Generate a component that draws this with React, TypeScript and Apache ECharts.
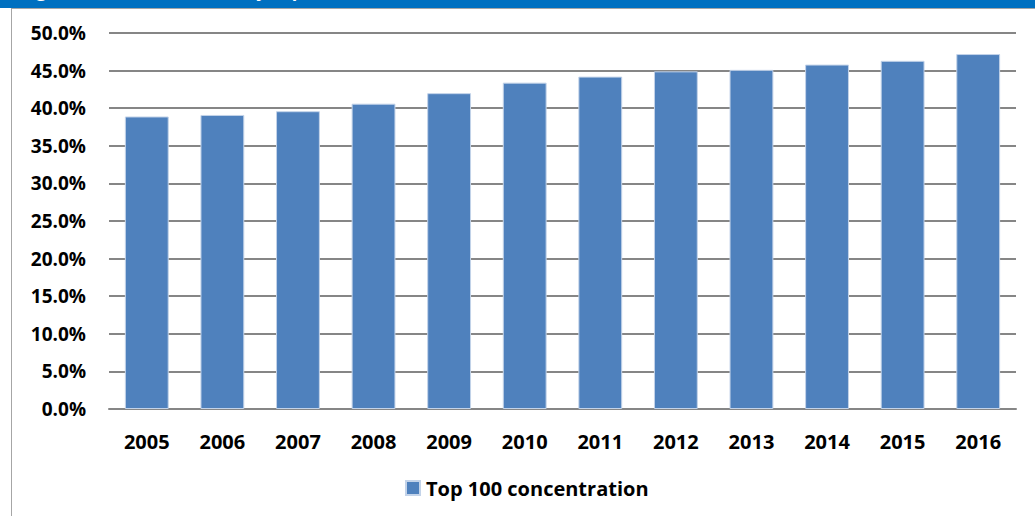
import React, { useEffect, useRef } from "react";
import * as echarts from "echarts";

const years = ["2005", "2006", "2007", "2008", "2009", "2010", "2011", "2012", "2013", "2014", "2015", "2016"];
const top100Concentration = [38.9, 39.1, 39.6, 40.6, 42.0, 43.4, 44.2, 44.9, 45.1, 45.8, 46.3, 47.2];
const seriesName = "Top 100 concentration";
const titleText = "Figure 1: Concentration by top 100 firms' market share (%)";

const FONT = "'Open Sans', 'Noto Sans', sans-serif";

export default function App() {
  const ref = useRef<HTMLDivElement>(null);

  useEffect(() => {
    if (!ref.current) return;
    const chart = echarts.init(ref.current, undefined, { renderer: "svg" });
    chart.setOption({
      animation: false,
      backgroundColor: "#ffffff",
      grid: { left: 97, right: 19, top: 24, bottom: 107, containLabel: false },
      legend: {
        data: [seriesName],
        left: 388,
        top: 464,
        icon: "rect",
        itemWidth: 14,
        itemHeight: 14,
        textStyle: { fontFamily: FONT, fontWeight: "bold", fontSize: 20, color: "#000", padding: [0, 0, 0, 1] },
      },
      xAxis: {
        type: "category",
        data: years,
        axisLine: { show: true, lineStyle: { color: "#868686", width: 2 } },
        axisTick: { show: false },
        axisLabel: {
          margin: 22,
          fontFamily: FONT,
          fontWeight: "bold",
          fontSize: 20,
          color: "#000",
        },
      },
      yAxis: {
        type: "value",
        min: 0,
        max: 50,
        interval: 5,
        axisLine: { show: false },
        axisTick: { show: false },
        splitLine: { lineStyle: { color: "#868686", width: 2 } },
        axisLabel: {
          margin: 23,
          fontFamily: FONT,
          fontWeight: "bold",
          fontSize: 19,
          color: "#000",
          formatter: (v: number) => `${v.toFixed(1)}%`,
        },
      },
      series: [
        {
          name: seriesName,
          type: "bar",
          data: top100Concentration,
          barCategoryGap: "42%",
          itemStyle: { color: "#4F81BD", borderColor: "#c3d3e9", borderWidth: 1 },
        },
      ],
    });
    return () => chart.dispose();
  }, []);

  return (
    <div style={{ position: "absolute", left: 0, top: 0, width: 1035, height: 516, background: "#fff", overflow: "hidden" }}>
      <div
        style={{
          position: "absolute",
          left: 0,
          top: 0,
          width: 1035,
          height: 8,
          background: "#0070C0",
          overflow: "hidden",
        }}
      >
        <div
          style={{
            position: "absolute",
            left: 20,
            top: -22,
            whiteSpace: "nowrap",
            color: "#fff",
            fontFamily: FONT,
            fontWeight: "bold",
            fontSize: 18,
            letterSpacing: "0.4px",
            lineHeight: "24px",
          }}
        >
          {titleText}
        </div>
      </div>
      <div
        style={{
          position: "absolute",
          left: 11,
          top: 8,
          width: 1024,
          height: 508,
          borderTop: "1px solid #a6a6a6",
          borderLeft: "1px solid #a6a6a6",
          boxSizing: "border-box",
        }}
      >
        <div ref={ref} style={{ position: "absolute", left: 0, top: 0, width: 1023, height: 507 }} />
      </div>
    </div>
  );
}
